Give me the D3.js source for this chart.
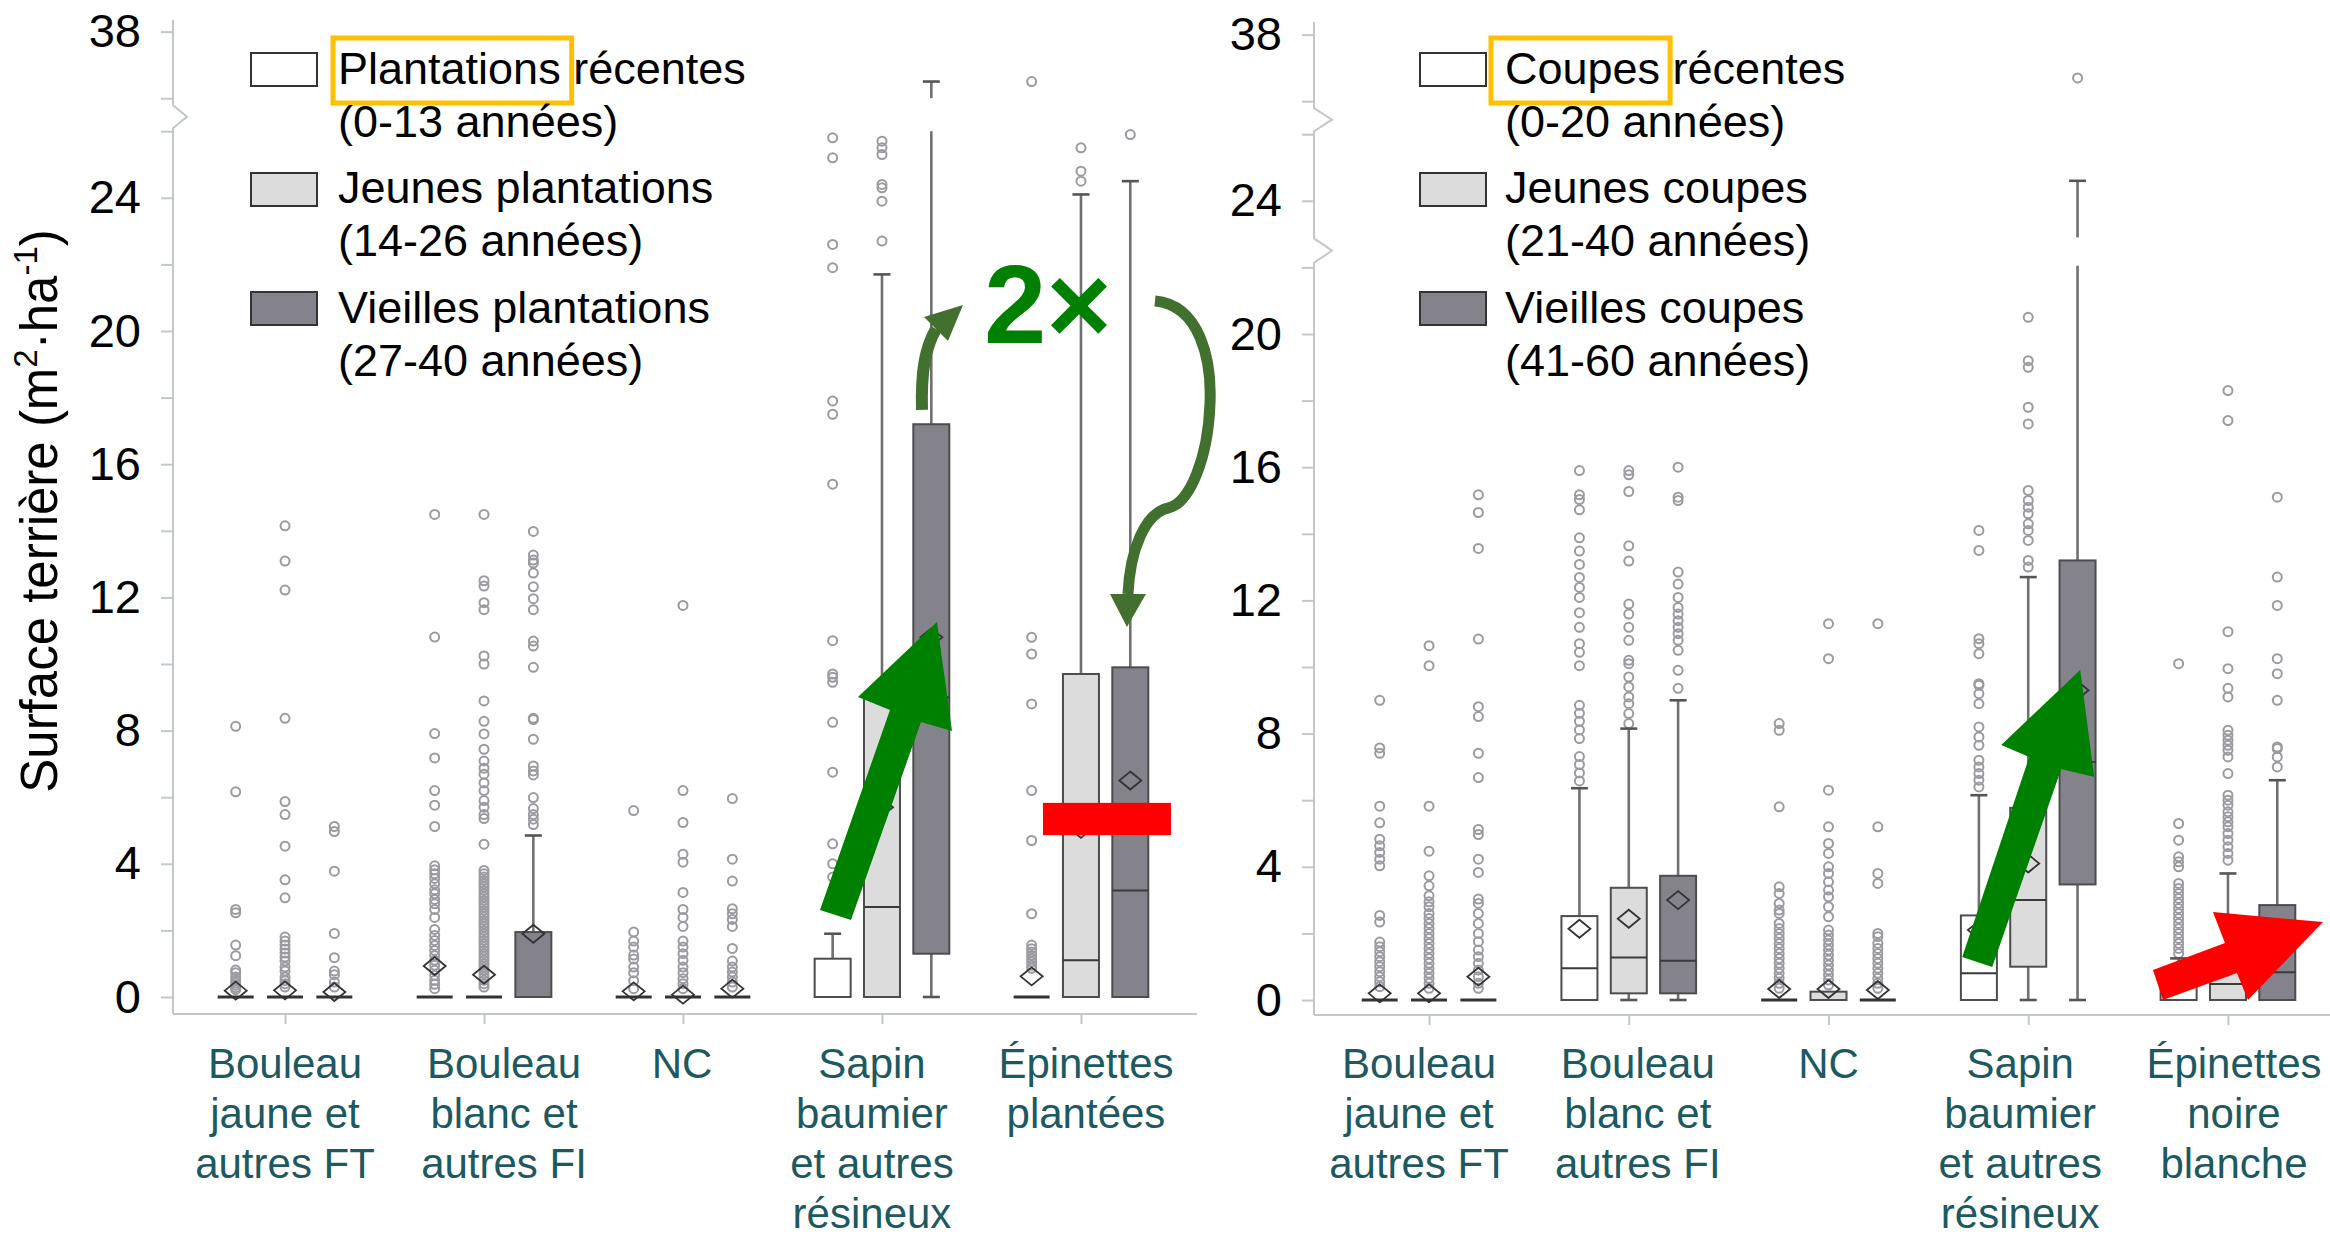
<!DOCTYPE html>
<html>
<head>
<meta charset="utf-8">
<script src="https://cdn.jsdelivr.net/npm/d3@7"></script>
<style>
  html, body { margin: 0; padding: 0; background: #fff; }
  svg { display: block; font-family: "Liberation Sans", Arial, Helvetica, sans-serif; }
</style>
</head>
<body>
<svg id="chart" width="2330" height="1238"></svg>
<script>
// ---------------- data ----------------
const seriesKeys = ["recent", "young", "old"];

const plantCatLines = [
  ["Bouleau", "jaune et", "autres FT"],
  ["Bouleau", "blanc et", "autres FI"],
  ["NC"],
  ["Sapin", "baumier", "et autres", "résineux"],
  ["Épinettes", "plantées"]
];
const coupeCatLines = [
  ["Bouleau", "jaune et", "autres FT"],
  ["Bouleau", "blanc et", "autres FI"],
  ["NC"],
  ["Sapin", "baumier", "et autres", "résineux"],
  ["Épinettes", "noire", "blanche"]
];

const plantLegend = [
  ["Plantations récentes", "(0-13 années)"],
  ["Jeunes plantations", "(14-26 années)"],
  ["Vieilles plantations", "(27-40 années)"]
];
const coupeLegend = [
  ["Coupes récentes", "(0-20 années)"],
  ["Jeunes coupes", "(21-40 années)"],
  ["Vieilles coupes", "(41-60 années)"]
];

const tickValuesY = [0, 2, 4, 6, 8, 10, 12, 14, 16, 18, 20, 22, 24, 26, 36, 38];
const tickLabelsY = [0, 4, 8, 12, 16, 20, 24, 38];

// box rows: [category, series, whiskerLow, q1, median, q3, whiskerHigh, mean]
const plantBoxes = [
  [0, 0, 0, 0, 0, 0, 0, 0.19],
  [0, 1, 0, 0, 0, 0, 0, 0.2],
  [0, 2, 0, 0, 0, 0, 0, 0.15],
  [1, 0, 0, 0, 0, 0, 0, 0.93],
  [1, 1, 0, 0, 0, 0, 0, 0.67],
  [1, 2, 0, 0, 0, 1.95, 4.85, 1.9],
  [2, 0, 0, 0, 0, 0, 0, 0.17],
  [2, 1, 0, 0, 0, 0, 0, 0.07],
  [2, 2, 0, 0, 0, 0, 0, 0.25],
  [3, 0, 0, 0, 0, 1.15, 1.9, null],
  [3, 1, 0, 0, 2.7, 9.0, 21.7, 5.7],
  [3, 2, 0, 1.3, 9.0, 17.2, 36.5, 10.8],
  [4, 0, 0, 0, 0, 0, 0, 0.62],
  [4, 1, 0, 0, 1.1, 9.7, 24.1, 5.05],
  [4, 2, 0, 0, 3.2, 9.9, 24.5, 6.5]
];
// outlier rows: [category, series, values]
const plantOutliers = [
  [0, 0, [8.13, 6.16, 2.63, 2.53, 1.56, 1.24, 0.81, 0.73, 0.6, 0.5, 0.42, 0.35, 0.28, 0.22]],
  [0, 1, [14.15, 13.09, 12.22, 8.37, 5.87, 5.48, 4.53, 3.52, 2.98, 1.8, 1.68, 1.56, 1.44, 1.32, 1.2, 1.08, 0.9, 0.78, 0.6, 0.49, 0.4, 0.3]],
  [0, 2, [5.12, 4.97, 3.78, 1.91, 1.18, 0.78, 0.67, 0.45, 0.3]],
  [1, 0, [14.49, 10.81, 7.91, 7.18, 6.2, 5.76, 5.12, 3.94, 3.82, 3.7, 3.56, 3.4, 3.22, 3.1, 2.93, 2.8, 2.63, 2.39, 2.03, 1.85, 1.7, 1.55, 1.4, 1.25, 1.1, 0.95, 0.8, 0.65, 0.5, 0.38, 0.25]],
  [1, 1, [14.49, 12.5, 12.34, 11.84, 11.63, 10.24, 10.0, 8.89, 8.28, 7.9, 7.44, 7.09, 6.87, 6.69, 6.43, 6.2, 5.9, 5.7, 5.48, 5.36, 4.59, 3.8, 3.7, 3.6, 3.5, 3.4, 3.3, 3.2, 3.1, 3.0, 2.9, 2.8, 2.7, 2.6, 2.5, 2.4, 2.3, 2.2, 2.1, 2.0, 1.9, 1.8, 1.7, 1.6, 1.5, 1.4, 1.3, 1.2, 1.1, 1.0, 0.9, 0.8, 0.7, 0.6, 0.5, 0.4, 0.3]],
  [1, 2, [13.98, 13.27, 13.12, 13.03, 12.73, 12.32, 11.96, 11.63, 10.69, 10.54, 9.9, 8.37, 8.33, 7.74, 6.94, 6.79, 6.67, 5.99, 5.66, 5.48, 5.34, 5.18]],
  [2, 0, [5.6, 1.95, 1.68, 1.5, 1.26, 1.14, 0.9, 0.73, 0.49, 0.25]],
  [2, 1, [11.76, 6.2, 5.24, 4.29, 4.05, 3.14, 2.63, 2.39, 2.12, 1.68, 1.5, 1.3, 1.1, 0.9, 0.73, 0.55, 0.4, 0.25]],
  [2, 2, [5.96, 4.14, 3.48, 2.65, 2.5, 2.33, 2.12, 1.46, 1.08, 0.9, 0.75, 0.6, 0.45, 0.3]],
  [3, 0, [25.8, 25.2, 22.6, 21.9, 17.9, 17.5, 15.4, 10.7, 9.7, 9.6, 9.45, 8.25, 6.75, 4.6, 4.0, 3.6]],
  [3, 1, [25.7, 25.5, 25.3, 24.4, 24.3, 23.9, 22.7]],
  [4, 0, [36.5, 10.8, 10.3, 8.8, 6.2, 4.7, 2.5, 1.56, 1.45, 1.35, 1.25, 1.15, 1.05, 0.95, 0.86]],
  [4, 1, [25.5, 24.8, 24.5]],
  [4, 2, [25.9]]
];

const coupeBoxes = [
  [0, 0, 0, 0, 0, 0, 0, 0.2],
  [0, 1, 0, 0, 0, 0, 0, 0.2],
  [0, 2, 0, 0, 0, 0, 0, 0.7],
  [1, 0, 0, 0, 0.95, 2.52, 6.36, 2.14],
  [1, 1, 0, 0.2, 1.28, 3.37, 8.15, 2.44],
  [1, 2, 0, 0.2, 1.18, 3.73, 9.0, 3.0],
  [2, 0, 0, 0, 0, 0, 0, 0.33],
  [2, 1, 0, 0, 0, 0.25, 0.25, 0.33],
  [2, 2, 0, 0, 0, 0, 0, 0.3],
  [3, 0, 0, 0, 0.8, 2.54, 6.15, 2.1],
  [3, 1, 0, 1.0, 3.0, 5.77, 12.7, 4.1],
  [3, 2, 0, 3.47, 7.15, 13.2, 24.6, 9.3],
  [4, 0, 0, 0, 0, 0.6, 1.25, 0.5],
  [4, 1, 0, 0, 0.48, 1.2, 3.8, 1.0],
  [4, 2, 0, 0, 0.83, 2.85, 6.6, 1.9]
];
const coupeOutliers = [
  [0, 0, [9.0, 7.57, 7.41, 5.82, 5.32, 4.83, 4.63, 4.43, 4.23, 4.03, 2.54, 2.34, 1.74, 1.6, 1.45, 1.3, 1.15, 1.0, 0.85, 0.7, 0.55, 0.4]],
  [0, 1, [10.64, 10.04, 5.82, 4.47, 3.73, 3.43, 3.13, 2.95, 2.8, 2.6, 2.45, 2.3, 2.15, 2.0, 1.85, 1.7, 1.55, 1.4, 1.25, 1.1, 0.95, 0.8, 0.65, 0.5, 0.35]],
  [0, 2, [15.17, 14.64, 13.56, 10.84, 8.81, 8.51, 7.41, 6.68, 5.12, 4.97, 4.23, 3.83, 3.03, 2.9, 2.6, 2.3, 2.0, 1.75, 1.5, 1.3, 1.1, 0.9, 0.7, 0.5, 0.35]],
  [1, 0, [15.9, 15.17, 15.03, 14.72, 13.88, 13.48, 13.08, 12.69, 12.39, 12.09, 11.63, 11.19, 10.7, 10.44, 10.04, 8.85, 8.61, 8.37, 8.11, 7.85, 7.31, 7.07, 6.82, 6.58]],
  [1, 1, [15.9, 15.77, 15.27, 13.64, 13.18, 11.89, 11.59, 11.19, 10.8, 10.2, 10.1, 9.7, 9.4, 9.1, 8.9, 8.6, 8.3]],
  [1, 2, [16.0, 15.1, 15.0, 12.85, 12.49, 12.09, 11.79, 11.59, 11.39, 11.19, 11.0, 10.8, 10.5, 9.9, 9.36]],
  [2, 0, [8.3, 8.1, 5.8, 3.4, 3.2, 2.9, 2.7, 2.6, 2.3, 2.15, 2.0, 1.85, 1.7, 1.55, 1.4, 1.25, 1.1, 0.95, 0.8, 0.65, 0.5, 0.35]],
  [2, 1, [11.3, 10.25, 6.3, 5.2, 4.7, 4.4, 4.0, 3.8, 3.55, 3.3, 3.1, 2.8, 2.5, 2.1, 1.95, 1.8, 1.65, 1.5, 1.35, 1.2, 1.05, 0.9, 0.75, 0.6, 0.45]],
  [2, 2, [11.3, 5.2, 3.8, 3.5, 2.0, 1.9, 1.7, 1.55, 1.4, 1.25, 1.1, 0.95, 0.8, 0.65, 0.5, 0.35]],
  [3, 0, [14.1, 13.5, 10.85, 10.7, 10.4, 9.5, 9.45, 9.2, 8.9, 8.2, 7.9, 7.65, 7.2, 7.0, 6.8, 6.6, 6.4]],
  [3, 1, [20.5, 19.2, 19.0, 17.8, 17.3, 15.3, 15.0, 14.8, 14.6, 14.3, 14.1, 13.8, 13.2, 13.0]],
  [3, 2, [36.7]],
  [4, 0, [10.1, 5.3, 4.8, 4.3, 4.15, 4.0, 3.5, 3.35, 3.2, 3.05, 2.9, 2.75, 2.6, 2.45, 2.3, 2.15, 2.0, 1.85, 1.7, 1.55, 1.4]],
  [4, 1, [18.3, 17.4, 11.06, 9.95, 9.36, 9.1, 8.1, 7.95, 7.8, 7.65, 7.5, 7.3, 6.8, 6.15, 6.0, 5.85, 5.65, 5.5, 5.35, 5.2, 5.0, 4.8, 4.6, 4.4, 4.2]],
  [4, 2, [15.1, 12.7, 11.85, 10.25, 9.8, 9.0, 7.6, 7.55, 7.3, 7.0]]
];

// ---------------- layout & style ----------------
const svg = d3.select("#chart");
const PX_PER_UNIT = 33.3, BREAK_GAP = 33;
const axisColor = "#c2c7cc";
const catColor = "#1d5961";
const fills = { recent: "#ffffff", young: "#dcdcdc", old: "#84838b" };
const boxW = 36, capW = 17;

const panels = [
  { boxes: plantBoxes, outliers: plantOutliers, catLines: plantCatLines, legend: plantLegend,
    keyword: "Plantations", axisX: 173, axisTop: 20, xEnd: 1197, baseY: 1014, y0: 997,
    xRange: [173, 1193], padding: 0.563, labelShift: [0, 20, -1, -10, 5],
    swX: 251, txX: 338, kwPad: [5, 11], peak: 14, deco: [] },
  { boxes: coupeBoxes, outliers: coupeOutliers, catLines: coupeCatLines, legend: coupeLegend,
    keyword: "Coupes", axisX: 1314, axisTop: 22, xEnd: 2330, baseY: 1015, y0: 1000,
    xRange: [1314, 2343], padding: 0.576, labelShift: [-10, 9, 0, -8, 6],
    swX: 1420, txX: 1505, kwPad: [14, 10], peak: 18, deco: [[22.05, 22.9]] }
];

// broken y scale: 0–26 then a jump to 36–38
function makeY(y0) {
  const a = y0 - 26 * PX_PER_UNIT;
  return d3.scaleLinear().domain([0, 26, 36, 38])
    .range([y0, a, a - BREAK_GAP, a - BREAK_GAP - 2 * PX_PER_UNIT]);
}

// remove pixel gaps from a vertical span [top, bottom]
function splitSpan(top, bottom, gaps) {
  let segs = [[top, bottom]];
  gaps.forEach(([g1, g2]) => {
    segs = segs.flatMap(([a, b]) => {
      if (g2 <= a || g1 >= b) return [[a, b]];
      const out = [];
      if (g1 > a) out.push([a, g1]);
      if (g2 < b) out.push([g2, b]);
      return out;
    });
  });
  return segs;
}

panels.forEach(p => {
  p.x = d3.scalePoint().domain(d3.range(5)).range(p.xRange).padding(p.padding);
  p.inner = d3.scaleBand().domain(seriesKeys).range([-74, 74]);
  p.y = makeY(p.y0);
  p.cx = (c, s) => p.x(c) + p.inner(seriesKeys[s]) + p.inner.bandwidth() / 2;
  p.at = (c, dx, v) => [p.x(c) + dx, p.y(v)];
  p.gaps = [[p.y(36), p.y(26)]].concat(p.deco.map(([lo, hi]) => [p.y(hi), p.y(lo)]));

  const g = svg.append("g");

  // ---- y axis line with break marks ----
  const ax = p.axisX;
  const breaks = [[p.y(36) + 7, p.y(26) - 3]].concat(p.deco.map(([lo, hi]) => [p.y(hi) + 1, p.y(lo) - 3]));
  let d = `M${ax},${p.axisTop}`;
  breaks.forEach(([a, b]) => {
    d += ` L${ax},${a} L${ax + p.peak},${(a + b) / 2} L${ax},${b}`;
  });
  d += ` L${ax},${p.baseY}`;
  g.append("path").attr("d", d).attr("fill", "none").attr("stroke", axisColor).attr("stroke-width", 2);

  const yAxis = d3.axisLeft(p.y).tickValues(tickValuesY).tickSize(12).tickPadding(20)
    .tickFormat(v => tickLabelsY.includes(v) ? String(v) : "");
  const ya = g.append("g").attr("transform", `translate(${ax},0)`).call(yAxis);
  ya.select(".domain").remove();
  ya.selectAll(".tick line").attr("stroke", axisColor).attr("stroke-width", 2);
  ya.selectAll(".tick text").attr("font-size", 47).attr("fill", "#000")
    .attr("font-family", "'Liberation Sans', Arial, sans-serif");

  // ---- x axis ----
  g.append("line").attr("x1", ax).attr("x2", p.xEnd).attr("y1", p.baseY).attr("y2", p.baseY)
    .attr("stroke", axisColor).attr("stroke-width", 2);
  const xAxis = d3.axisBottom(p.x).tickSize(10).tickFormat("");
  const xa = g.append("g").attr("transform", `translate(0,${p.baseY})`).call(xAxis);
  xa.select(".domain").remove();
  xa.selectAll(".tick line").attr("stroke", axisColor).attr("stroke-width", 2);

  // ---- category labels ----
  p.catLines.forEach((lines, i) => {
    const cx = p.x(i) + p.labelShift[i];
    const t = g.append("text").attr("text-anchor", "middle").attr("font-size", 42).attr("fill", catColor);
    lines.forEach((ln, j) => {
      t.append("tspan").attr("x", cx).attr("y", 1078 + j * 50).text(ln);
    });
  });

  // ---- outliers ----
  const pts = p.outliers.flatMap(([c, s, vals]) => vals.map(v => ({ c, s, v })));
  g.append("g").selectAll("circle").data(pts).join("circle")
    .attr("cx", d => p.cx(d.c, d.s)).attr("cy", d => p.y(d.v)).attr("r", 4.5)
    .attr("fill", "none").attr("stroke", "#9a9aa0").attr("stroke-width", 2);

  // ---- boxes ----
  p.boxes.forEach(([c, s, lo, q1, med, q3, hi, mean]) => {
    const cx = p.cx(c, s);
    const bg = g.append("g");
    const drawWhisker = (vA, vB) => {
      splitSpan(p.y(vB), p.y(vA), p.gaps).forEach(([a, b]) => {
        bg.append("line").attr("x1", cx).attr("x2", cx).attr("y1", a).attr("y2", b)
          .attr("stroke", "#707070").attr("stroke-width", 2.6);
      });
    };
    const cap = v => bg.append("line").attr("x1", cx - capW / 2).attr("x2", cx + capW / 2)
      .attr("y1", p.y(v)).attr("y2", p.y(v)).attr("stroke", "#555").attr("stroke-width", 2.6);
    if (hi > q3) { drawWhisker(q3, hi); cap(hi); }
    if (lo < q1) { drawWhisker(lo, q1); cap(lo); }
    if (q3 > q1) {
      bg.append("rect").attr("x", cx - boxW / 2).attr("width", boxW)
        .attr("y", p.y(q3)).attr("height", p.y(q1) - p.y(q3))
        .attr("fill", fills[seriesKeys[s]]).attr("stroke", "#4d4d4d").attr("stroke-width", 2);
      if (med > q1) {
        bg.append("line").attr("x1", cx - boxW / 2).attr("x2", cx + boxW / 2)
          .attr("y1", p.y(med)).attr("y2", p.y(med)).attr("stroke", "#3a3a3a").attr("stroke-width", 2);
      }
    } else {
      bg.append("line").attr("x1", cx - boxW / 2).attr("x2", cx + boxW / 2)
        .attr("y1", p.y(q1)).attr("y2", p.y(q1)).attr("stroke", "#333").attr("stroke-width", 3);
    }
    if (mean !== null) {
      const my = p.y(mean);
      bg.append("path").attr("d", `M${cx},${my - 9} L${cx + 11},${my} L${cx},${my + 9} L${cx - 11},${my} Z`)
        .attr("fill", "none").attr("stroke", "#333").attr("stroke-width", 1.8);
    }
  });

  // ---- legend ----
  const swY = [53, 173, 292], txY = [84, 203, 323];
  p.legend.forEach((lines, i) => {
    g.append("rect").attr("x", p.swX).attr("y", swY[i]).attr("width", 66).attr("height", 33)
      .attr("fill", fills[seriesKeys[i]]).attr("stroke", "#333").attr("stroke-width", 2);
    lines.forEach((ln, j) => {
      const t = g.append("text").attr("x", p.txX).attr("y", txY[i] + j * 53)
        .attr("font-size", 45).attr("fill", "#000").text(ln);
      if (i === 0 && j === 0) {
        const w = t.node().getSubStringLength(0, p.keyword.length);
        g.append("rect").attr("x", p.txX - p.kwPad[0]).attr("y", 38)
          .attr("width", w + p.kwPad[0] + p.kwPad[1]).attr("height", 65)
          .attr("fill", "none").attr("stroke", "#ffc000").attr("stroke-width", 5);
      }
    });
  });
});

// ---------------- y axis title ----------------
const title = svg.append("text").attr("transform", "translate(57,511) rotate(-90)")
  .attr("text-anchor", "middle").attr("font-size", 51).attr("fill", "#000");
title.append("tspan").text("Surface terrière (m");
title.append("tspan").attr("font-size", 33).attr("dy", -20).text("2");
title.append("tspan").attr("dy", 20).text("·ha");
title.append("tspan").attr("font-size", 33).attr("dy", -20).text("-1");
title.append("tspan").attr("dy", 20).text(")");

// ---------------- annotations ----------------
const [L, R] = panels;
const ann = svg.append("g");
const poly = pts => "M" + pts.map(q => q.join(",")).join(" L") + " Z";

// big green arrows
ann.append("path").attr("fill", "#008000").attr("d", poly([
  L.at(3, -62, 2.61), L.at(3, 8, 8.62), L.at(3, -24, 9.01), L.at(3, 55, 11.26),
  L.at(3, 70, 7.99), L.at(3, 39, 8.26), L.at(3, -31, 2.31)
]));
ann.append("path").attr("fill", "#008000").attr("d", poly([
  R.at(3, -66, 1.29), R.at(3, 1, 7.3), R.at(3, -27, 7.66), R.at(3, 52, 9.91),
  R.at(3, 66, 6.7), R.at(3, 33, 6.94), R.at(3, -36, 0.99)
]));

// red markers
const rb1 = L.at(4, -38, 5.83), rb2 = L.at(4, 90, 4.86);
ann.append("rect").attr("x", rb1[0]).attr("y", rb1[1]).attr("width", rb2[0] - rb1[0])
  .attr("height", rb2[1] - rb1[1]).attr("fill", "#ff0000");
ann.append("path").attr("fill", "#ff0000").attr("d", poly([
  R.at(4, -75, 0.9), R.at(4, -3, 1.71), R.at(4, -15, 2.64), R.at(4, 95, 2.34),
  R.at(4, 20, 0), R.at(4, 9, 0.81), R.at(4, -65, 0)
]));

// curved arrows around the "2×" label
const curveColor = "#41702f";
const c = (q) => q.join(",");
const s0 = L.at(3, 40, 17.63), s1 = L.at(3, 39, 18.77), s2 = L.at(3, 43, 19.49), s3 = L.at(3, 54, 20.06);
ann.append("path").attr("d", `M${c(s0)} C${c(s1)} ${c(s2)} ${c(s3)}`)
  .attr("fill", "none").attr("stroke", curveColor).attr("stroke-width", 12);
ann.append("path").attr("fill", curveColor)
  .attr("d", poly([L.at(3, 42, 20.42), L.at(3, 81, 20.78), L.at(3, 66, 19.7)]));

const e = (dx, v) => c(L.at(4, dx, v));
ann.append("path").attr("d",
  `M${e(74, 20.9)} C${e(119, 20.78)} ${e(131, 19.13)} ${e(129, 17.81)}` +
  ` C${e(127, 16.19)} ${e(109, 14.83)} ${e(87, 14.68)}` +
  ` C${e(64, 14.53)} ${e(49, 13.42)} ${e(47, 12.1)}`)
  .attr("fill", "none").attr("stroke", curveColor).attr("stroke-width", 11);
ann.append("path").attr("fill", curveColor)
  .attr("d", poly([L.at(4, 29, 12.1), L.at(4, 65, 12.1), L.at(4, 46, 11.11)]));

const tx = L.at(3, 102, 19.64);
ann.append("text").attr("x", tx[0]).attr("y", tx[1]).attr("font-size", 112)
  .attr("font-weight", "bold").attr("fill", "#008000").text("2×");
</script>
</body>
</html>
